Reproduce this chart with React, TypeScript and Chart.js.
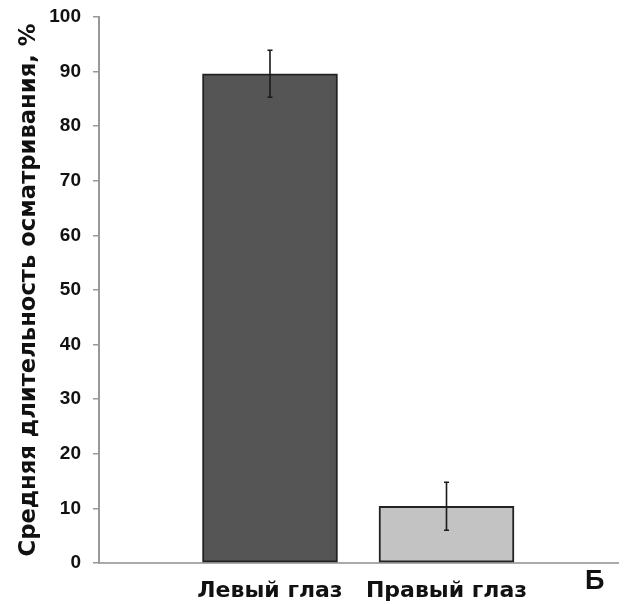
import React, { useEffect, useRef } from "react";
import { Chart, registerables } from "chart.js";

Chart.register(...registerables);

const categories = ["Левый глаз", "Правый глаз"];
const categoryPositions = [1, 2];
const meanValues = [89.6, 10.4];
const errorValues = [4.3, 4.4];
const yTicks = [0, 10, 20, 30, 40, 50, 60, 70, 80, 90, 100];
const yTitle = "Средняя длительность осматривания, %";
const panelLetter = "Б";
const barColors = ["#555555", "#c3c3c3"];

const FONT = "'Liberation Sans', Arial, sans-serif";
const WIDE = "'DejaVu Sans', sans-serif";

const errorBarPlugin = {
  id: "errorBars",
  afterDatasetsDraw(chart: any) {
    const ctx = chart.ctx;
    const x = chart.scales.x;
    const y = chart.scales.y;
    ctx.save();
    ctx.strokeStyle = "#1a1a1a";
    ctx.lineWidth = 1.6;
    categoryPositions.forEach((pos, i) => {
      const px = x.getPixelForValue(pos);
      const top = y.getPixelForValue(meanValues[i] + errorValues[i]);
      const bot = y.getPixelForValue(meanValues[i] - errorValues[i]);
      ctx.beginPath();
      ctx.moveTo(px, top);
      ctx.lineTo(px, bot);
      ctx.moveTo(px - 2.5, top);
      ctx.lineTo(px + 2.5, top);
      ctx.moveTo(px - 2.5, bot);
      ctx.lineTo(px + 2.5, bot);
      ctx.stroke();
    });
    ctx.fillStyle = "#111";
    ctx.font = `bold 27px ${FONT}`;
    ctx.textAlign = "center";
    ctx.textBaseline = "middle";
    ctx.fillText(panelLetter, x.getPixelForValue(2.84), y.bottom + 19);
    ctx.restore();
  },
};

export default function App() {
  const ref = useRef<HTMLCanvasElement>(null);
  useEffect(() => {
    document.body.style.margin = "0";
    const chart = new Chart(ref.current!, {
      type: "bar",
      data: {
        datasets: [
          {
            data: categoryPositions.map((p, i) => ({ x: p, y: meanValues[i] })),
            backgroundColor: barColors,
            borderColor: "#222222",
            borderWidth: 2,
            barThickness: 135,
            borderSkipped: false,
          },
        ],
      },
      options: {
        animation: false,
        responsive: false,
        maintainAspectRatio: false,
        layout: { padding: { top: 17, right: 9, left: 0, bottom: 0 } },
        plugins: { legend: { display: false }, tooltip: { enabled: false } },
        scales: {
          x: {
            type: "linear",
            offset: false,
            min: 0.0312,
            max: 2.9717,
            afterBuildTicks: (s: any) => {
              s.ticks = categoryPositions.map((v) => ({ value: v }));
            },
            afterFit: (s: any) => {
              s.height = 41;
              s.paddingLeft = 0;
              s.paddingRight = 0;
            },
            ticks: {
              callback: (v: any) => categories[categoryPositions.indexOf(Number(v))] ?? "",
              color: "#111",
              font: { family: WIDE, size: 22, weight: "bold" },
              padding: 7,
              maxRotation: 0,
              autoSkip: false,
            },
            grid: { display: false, offset: false },
            border: { color: "#aaaaaa", width: 2 },
          },
          y: {
            min: 0,
            max: 100,
            afterBuildTicks: (s: any) => {
              s.ticks = yTicks.map((v) => ({ value: v }));
            },
            afterFit: (s: any) => {
              s.width = 99;
              s.paddingTop = 0;
              s.paddingBottom = 0;
            },
            ticks: {
              color: "#111",
              font: { family: FONT, size: 19, weight: "bold" },
              padding: 12,
            },
            grid: {
              drawOnChartArea: false,
              drawTicks: true,
              tickLength: 6,
              color: "#999999",
              lineWidth: 1.5,
            },
            border: { color: "#999999", width: 2 },
            title: {
              display: true,
              text: yTitle,
              color: "#111",
              font: { family: WIDE, size: 22.7, weight: "bold" },
              padding: { top: 15, bottom: 0 },
            },
          },
        },
      },
      plugins: [errorBarPlugin],
    } as any);
    return () => chart.destroy();
  }, []);
  return (
    <div style={{ width: 627, height: 604 }}>
      <canvas ref={ref} width={627} height={604} />
    </div>
  );
}
